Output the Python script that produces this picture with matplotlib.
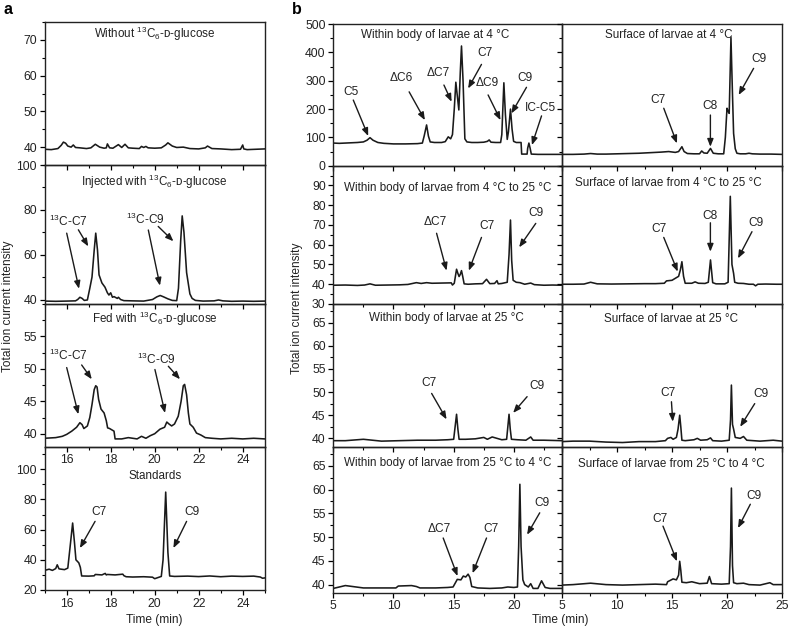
import matplotlib
matplotlib.use("Agg")
import matplotlib.pyplot as plt
from matplotlib.ticker import MultipleLocator

plt.rcParams['font.family'] = ['Liberation Sans', 'DejaVu Sans']
plt.rcParams['mathtext.fontset'] = 'custom'
plt.rcParams['mathtext.rm'] = 'Liberation Sans'
plt.rcParams['mathtext.it'] = 'Liberation Sans:italic'
plt.rcParams['font.size'] = 8.3

# ---------------- data: panel a ----------------
a_titles = ["Without $^{13}$C$_6$-ᴅ-glucose", "Injected with $^{13}$C$_6$-ᴅ-glucose",
            "Fed with $^{13}$C$_6$-ᴅ-glucose", "Standards"]

a1_t = [15.0, 15.3, 15.6, 15.75, 15.85, 15.95, 16.05, 16.2, 16.3, 16.4, 16.6, 16.9, 17.1, 17.3, 17.5, 17.7,
        17.8, 17.85, 17.95, 18.1, 18.25, 18.35, 18.5, 18.65, 18.8, 19.0, 19.3, 19.4, 19.5, 19.6, 19.7, 20.0,
        20.3, 20.5, 20.6, 20.8, 21.0, 21.3, 21.6, 22.0, 22.3, 22.4, 22.6, 23.0, 23.5, 23.9, 24.0, 24.05,
        24.2, 24.6, 25.0]
a1_v = [39.4, 39.3, 39.6, 40.5, 41.4, 41.1, 40.3, 40.0, 40.6, 39.9, 39.8, 39.6, 39.8, 40.8, 40.0, 39.7,
        39.8, 40.9, 39.8, 39.7, 40.3, 40.7, 39.9, 40.8, 39.8, 39.7, 39.6, 40.2, 39.9, 40.2, 39.8, 39.7,
        39.8, 40.6, 41.2, 40.3, 39.9, 40.0, 39.6, 39.5, 39.8, 40.3, 39.6, 39.5, 39.3, 39.4, 40.6, 39.5,
        39.3, 39.4, 39.5]

a2_t = [15.0, 15.5, 16.0, 16.4, 16.5, 16.6, 16.7, 16.8, 16.94, 17.05, 17.15, 17.25, 17.32, 17.4, 17.47,
        17.6, 17.74, 17.85, 17.92, 18.0, 18.08, 18.15, 18.3, 18.35, 18.45, 18.6, 19.0, 19.5, 19.9, 20.1,
        20.25, 20.4, 20.6, 20.8, 21.0, 21.08, 21.18, 21.25, 21.33, 21.45, 21.6, 21.7, 21.85, 22.2, 22.7,
        22.9, 23.1, 23.5, 24.0, 24.5, 25.0]
a2_v = [39.3, 39.2, 39.3, 39.4, 40.0, 41.0, 40.5, 39.6, 39.8, 45.0, 50.0, 62.0, 69.6, 62.0, 51.0,
        47.4, 45.5, 43.0, 42.0, 43.0, 41.0, 41.3, 40.5, 41.0, 40.0, 39.5, 39.4, 39.3, 40.0, 41.2,
        41.8, 41.2, 40.3, 39.6, 39.5, 45.0, 66.0, 77.3, 70.0, 52.0, 42.5, 40.5, 39.6, 39.3, 39.4,
        39.8, 39.4, 39.2, 39.3, 39.2, 39.3]

a3_t = [15.0, 15.5, 15.8, 16.0, 16.23, 16.45, 16.6, 16.7, 16.78, 16.94, 17.05, 17.15, 17.25, 17.32, 17.38,
        17.45, 17.56, 17.7, 17.8, 17.86, 17.95, 18.05, 18.15, 18.2, 18.5, 18.8, 19.2, 19.4, 19.6, 19.8,
        20.0, 20.24, 20.45, 20.55, 20.65, 20.77, 20.9, 21.07, 21.2, 21.3, 21.36, 21.45, 21.53, 21.6,
        21.75, 21.9, 22.1, 22.3, 22.6, 23.0, 23.5, 24.0, 24.5, 25.0]
a3_v = [39.3, 39.4, 39.6, 39.9, 40.4, 41.0, 41.7, 41.4, 40.8, 41.2, 42.5, 44.5, 46.8, 47.4, 47.2,
        45.3, 43.8, 43.2, 42.0, 40.9, 40.8, 40.6, 40.4, 39.2, 39.2, 39.4, 39.2, 39.6, 39.3, 39.7,
        40.0, 40.7, 41.0, 41.8, 41.5, 41.2, 41.5, 42.7, 45.0, 47.4, 47.6, 46.0, 43.2, 41.5,
        41.0, 40.1, 39.8, 39.4, 39.3, 39.2, 39.3, 39.2, 39.3, 39.2]

a4_t = [15.0, 15.2, 15.35, 15.5, 15.57, 15.65, 15.9, 16.05, 16.15, 16.27, 16.35, 16.42, 16.55, 16.62,
        16.68, 17.0, 17.25, 17.3, 17.6, 17.75, 17.8, 17.85, 18.2, 18.55, 18.6, 18.7, 19.0, 19.5, 19.9,
        20.0, 20.1, 20.3, 20.38, 20.5, 20.6, 20.68, 20.9, 21.5, 22.0, 22.5, 23.0, 23.5, 24.0, 24.5,
        24.8, 24.9, 25.0]
a4_v = [33.0, 33.8, 33.0, 34.2, 36.7, 34.0, 33.5, 34.5, 48.0, 64.4, 52.0, 40.0, 38.0, 35.0,
        29.3, 29.2, 29.4, 30.3, 30.0, 31.0, 30.0, 30.3, 30.0, 30.5, 29.5, 28.8, 28.6, 28.8, 28.5,
        27.5, 28.0, 29.0, 40.0, 84.9, 45.0, 29.3, 29.0, 29.2, 28.9, 29.3, 28.8, 29.2, 29.0, 29.2,
        28.6, 27.8, 28.0]

# ---------------- data: panel b ----------------
b_titles_left = ["Within body of larvae at 4 °C", "Within body of larvae from 4 °C to 25 °C",
                 "Within body of larvae at 25 °C", "Within body of larvae from 25 °C to 4 °C"]
b_titles_right = ["Surface of larvae at 4 °C", "Surface of larvae from 4 °C to 25 °C",
                  "Surface of larvae at 25 °C", "Surface of larvae from 25 °C to 4 °C"]

b1L_t = [5.0, 5.5, 6.0, 6.5, 7.0, 7.5, 7.8, 8.05, 8.3, 8.7, 9.2, 10.0, 11.0, 12.0, 12.4, 12.55, 12.75,
         12.9, 13.05, 13.4, 14.0, 14.3, 14.55, 14.75, 14.9, 15.05, 15.18, 15.32, 15.43, 15.55, 15.65,
         15.78, 15.93, 16.1, 16.5, 17.0, 17.5, 17.8, 17.95, 18.1, 18.5, 18.9, 19.0, 19.17, 19.3, 19.45,
         19.55, 19.72, 19.85, 19.98, 20.2, 20.6, 20.65, 21.1, 21.15, 21.25, 21.35, 21.45, 22.0, 23.0, 24.0]
b1L_v = [80, 79, 80, 81, 82, 84, 90, 99, 90, 82, 79, 77, 77, 78, 80, 105, 144,
         105, 84, 82, 82, 85, 102, 95, 110, 200, 295, 240, 197, 330, 423,
         300, 95, 84, 82, 82, 83, 86, 91, 83, 82, 82, 110, 293, 180, 93,
         120, 200, 130, 86, 82, 82, 41, 41, 62, 80, 62, 41, 40, 40, 40]

b1R_t = [5.0, 6.0, 7.0, 7.6, 8.2, 9.0, 10.0, 11.0, 12.0, 13.0, 14.0, 14.7, 15.3, 15.6, 15.9, 16.1, 16.4,
         17.0, 17.5, 17.7, 17.9, 18.2, 18.5, 18.75, 19.2, 19.7, 19.85, 20.0, 20.1, 20.2, 20.36, 20.5, 20.6,
         20.75, 20.9, 21.2, 21.7, 22.0, 22.3, 23.0, 24.0, 25.0]
b1R_v = [40, 40, 41, 43, 41, 41, 42, 43, 44, 46, 48, 50, 47, 50, 67, 50, 43,
         42, 42, 52, 45, 44, 61, 44, 42, 42, 100, 203, 192, 185, 453, 250, 114,
         60, 44, 42, 42, 44, 42, 41, 41, 40]

b2L_t = [5.0, 6.0, 7.0, 7.6, 8.05, 8.5, 9.5, 10.5, 11.2, 11.9, 12.3, 12.75, 13.2, 14.0, 14.8, 14.9, 15.05,
         15.24, 15.35, 15.45, 15.55, 15.65, 15.75, 15.87, 16.2, 16.8, 17.4, 17.73, 18.0, 18.4, 18.6, 18.7,
         19.0, 19.45, 19.6, 19.72, 19.82, 19.94, 20.2, 20.5, 20.9, 21.4, 21.7, 22.5, 23.2, 24.0]
b2L_v = [39.5, 39.6, 39.4, 39.6, 40.2, 39.5, 39.6, 39.7, 39.9, 40.8, 40.4, 40.8, 40.5, 40.6, 40.7, 39.6, 40.5,
         47.6, 45.5, 43.9, 45.0, 46.9, 44.0, 40.2, 40.0, 40.2, 40.3, 42.5, 40.3, 40.4, 41.8, 40.2,
         40.4, 41.0, 55.0, 72.5, 52.0, 42.0, 41.0, 40.8, 40.0, 40.6, 39.8, 39.5, 39.6, 39.5]

b2R_t = [5.0, 6.0, 7.0, 7.6, 8.2, 9.5, 11.0, 12.5, 13.5, 14.3, 14.5, 15.0, 15.3, 15.6, 15.75, 15.9, 16.05,
         16.2, 16.8, 17.1, 17.4, 18.0, 18.3, 18.5, 18.7, 19.0, 19.8, 20.1, 20.3, 20.45, 20.6, 20.7, 21.0,
         21.5, 22.0, 22.4, 22.6, 22.8, 23.5, 24.5, 25.0]
b2R_v = [40.0, 40.0, 40.1, 41.0, 40.2, 40.1, 40.2, 40.3, 40.3, 40.5, 41.7, 42.0, 43.0, 44.0, 47.0, 51.4, 44.0,
         40.5, 40.5, 41.2, 40.5, 40.4, 41.0, 52.3, 40.8, 40.2, 40.2, 41.0, 84.5, 50.0, 45.5, 41.0, 40.5,
         40.4, 40.0, 40.0, 39.2, 40.0, 40.1, 40.0, 40.0]

b3L_t = [5.0, 6.0, 7.5, 9.0, 10.5, 12.0, 13.5, 14.5, 15.0, 15.12, 15.24, 15.35, 15.45, 16.0, 16.8, 17.5,
         17.8, 18.2, 18.6, 19.0, 19.4, 19.5, 19.6, 19.7, 19.8, 20.3, 21.0, 21.4, 21.6, 22.5, 24.0]
b3L_v = [39.5, 39.5, 39.8, 39.4, 39.5, 39.6, 39.6, 39.7, 39.8, 42.5, 45.2, 42.0, 39.8, 39.8, 39.9, 40.2,
         39.8, 40.3, 40.0, 39.7, 39.8, 42.5, 45.2, 42.0, 39.8, 39.7, 39.6, 40.3, 39.6, 39.6, 39.5]

b3R_t = [5.0, 6.0, 7.5, 9.0, 10.5, 12.0, 13.5, 14.4, 14.6, 14.9, 15.1, 15.4, 15.55, 15.7, 15.8, 15.9, 16.2,
         17.0, 17.3, 17.6, 18.2, 18.5, 18.7, 19.5, 20.2, 20.32, 20.4, 20.5, 20.6, 20.75, 21.2, 21.5, 21.8,
         23.0, 24.2, 25.0]
b3R_v = [39.3, 39.4, 39.4, 39.2, 39.1, 39.3, 39.3, 39.5, 40.0, 40.2, 39.8, 40.2, 42.0, 45.0, 42.5, 39.6, 39.5,
         39.7, 40.0, 39.6, 39.7, 40.1, 39.5, 39.4, 39.6, 44.0, 51.5, 43.0, 42.0, 40.2, 40.0, 40.4, 39.6,
         39.4, 39.6, 39.4]

b4L_t = [5.0, 5.5, 6.0, 7.5, 9.0, 10.2, 10.4, 11.5, 11.9, 12.2, 13.5, 14.5, 14.95, 15.3, 15.6, 15.8, 16.0,
         16.2, 16.35, 16.5, 17.0, 18.0, 19.0, 19.5, 20.0, 20.3, 20.4, 20.5, 20.6, 20.75, 20.9, 21.2, 21.4,
         21.6, 22.0, 22.3, 22.6, 23.0, 24.0]
b4L_v = [39.2, 39.5, 39.8, 39.3, 39.3, 39.3, 39.7, 39.8, 39.6, 39.3, 39.3, 39.4, 39.5, 41.1, 41.0, 41.8, 41.6,
         42.2, 41.5, 39.6, 39.3, 39.2, 39.3, 39.5, 39.4, 39.5, 48.0, 61.1, 48.0, 41.0, 40.0, 39.5, 40.2,
         39.2, 39.2, 40.8, 39.4, 39.2, 39.2]

b4R_t = [5.0, 6.0, 7.6, 9.0, 10.5, 12.0, 13.5, 14.5, 14.6, 15.1, 15.4, 15.6, 15.7, 15.8, 15.9, 16.3, 16.8,
         17.5, 18.2, 18.4, 18.6, 19.5, 20.2, 20.32, 20.4, 20.5, 20.6, 20.9, 21.5, 22.0, 23.0, 23.9, 24.2, 25.0]
b4R_v = [39.9, 40.0, 40.3, 40.0, 39.9, 40.0, 40.1, 40.0, 40.6, 41.2, 41.0, 42.0, 44.9, 43.0, 40.5, 40.4, 40.6,
         40.2, 40.3, 41.7, 40.2, 40.1, 40.2, 48.0, 60.3, 44.0, 40.4, 40.2, 40.3, 40.0, 39.9, 40.4, 40.0, 40.0]

# ---------------- figure ----------------
W, H = 788, 628
fig = plt.figure(figsize=(W / 100, H / 100), dpi=100)
fig.patch.set_facecolor('white')


def add_ax(x0, x1, y0, y1):
    ax = fig.add_axes([x0 / W, 1 - y1 / H, (x1 - x0) / W, (y1 - y0) / H])
    ax.set_facecolor('none')
    return ax


def style(ax, xlim, ylim, xmaj, xmin, ymaj, ymin, xlabels=False, ylabels=True):
    ax.set_xlim(*xlim)
    ax.set_ylim(*ylim)
    ax.xaxis.set_major_locator(MultipleLocator(xmaj))
    ax.xaxis.set_minor_locator(MultipleLocator(xmin))
    ax.yaxis.set_major_locator(MultipleLocator(ymaj))
    ax.yaxis.set_minor_locator(MultipleLocator(ymin))
    ax.tick_params(which='major', direction='out', length=3.5, width=0.9, labelsize=8.8, pad=2,
                   labelcolor='#222222')
    ax.tick_params(which='minor', direction='out', length=2, width=0.8)
    ax.tick_params(axis='x', labelbottom=xlabels)
    ax.tick_params(axis='y', labelleft=ylabels)
    for s in ax.spines.values():
        s.set_linewidth(1.0)
        s.set_color('#222222')


def trace(ax, t, v):
    ax.plot(t, v, color='#1a1a1a', lw=1.15, solid_joinstyle='round')


def arrow(ax, start, tip):
    ax.annotate('', xy=tip, xytext=start,
                arrowprops=dict(arrowstyle='-|>,head_length=0.55,head_width=0.22', lw=1.0,
                                color='#1a1a1a', shrinkA=0, shrinkB=0),
                annotation_clip=False)


def label(ax, x, y, s):
    ax.text(x, y, s, ha='center', va='center', fontsize=8.6, color='#222222', clip_on=False)


def title(ax, fx, fy, s):
    ax.text(fx, fy, s, transform=ax.transAxes, ha='center', va='center', fontsize=8.4, color='#222222')


# panel a
ax_l, ax_r = 44.7, 264.7
a_rows = [(22, 165), (165, 304), (304, 446.7), (446.7, 590)]
a_ylims = [(35, 75), (38, 100), (38, 60), (20, 115)]
a_yt = [(10, 5), (20, 10), (5, 2.5), (20, 10)]
a_data = [(a1_t, a1_v), (a2_t, a2_v), (a3_t, a3_v), (a4_t, a4_v)]
a_title_pos = [0.915, 0.88, 0.895, 0.795]
axa = []
for i in range(4):
    ax = add_ax(ax_l, ax_r, *a_rows[i])
    style(ax, (15, 25), a_ylims[i], 2, 1, *a_yt[i], xlabels=(i >= 2))
    trace(ax, *a_data[i])
    title(ax, 0.5, a_title_pos[i], a_titles[i])
    axa.append(ax)
axa[0].set_yticks([40, 50, 60, 70])
axa[1].set_yticks([40, 60, 80, 100])
axa[2].set_yticks([40, 45, 50, 55])
axa[3].set_yticks([20, 40, 60, 80, 100])

ax = axa[1]
label(ax, 16.1, 74.8, "$^{13}$C-C7")
arrow(ax, (16.0, 69.6), (16.56, 44.8))
arrow(ax, (16.53, 71.1), (16.98, 63.7))
label(ax, 19.6, 75.6, "$^{13}$C-C9")
arrow(ax, (19.71, 71.0), (20.24, 46.2))
arrow(ax, (20.16, 72.6), (20.85, 66.0))

ax = axa[2]
label(ax, 16.1, 52.0, "$^{13}$C-C7")
arrow(ax, (16.0, 50.2), (16.53, 43.0))
arrow(ax, (16.68, 50.6), (17.14, 48.4))
label(ax, 20.1, 51.5, "$^{13}$C-C9")
arrow(ax, (20.01, 49.9), (20.47, 43.2))
arrow(ax, (20.62, 50.4), (21.15, 48.4))

ax = axa[3]
ax.set_xlabel("Time (min)", fontsize=8.6, labelpad=3, color='#222222')
label(ax, 17.45, 71.5, "C7")
arrow(ax, (17.29, 65.5), (16.6, 47.8))
label(ax, 21.7, 71.5, "C9")
arrow(ax, (21.45, 65.5), (20.85, 47.8))

# panel b
bL0, bL1, bR1 = 333.3, 562.0, 782.0
b_rows = [(24.2, 165.7), (165.7, 304), (304, 446.7), (446.7, 592.7)]
b_ylims = [(0, 500), (30, 100), (38.2, 69), (38.3, 69)]
b_yt = [(100, 50), (10, 5), (5, 2.5), (5, 2.5)]
bL_data = [(b1L_t, b1L_v), (b2L_t, b2L_v), (b3L_t, b3L_v), (b4L_t, b4L_v)]
bR_data = [(b1R_t, b1R_v), (b2R_t, b2R_v), (b3R_t, b3R_v), (b4R_t, b4R_v)]
bL_title_x = [0.446, 0.5, 0.495, 0.5]
bR_title_x = [0.483, 0.483, 0.496, 0.499]
bL_title_pos = [0.927, 0.837, 0.9, 0.886]
bR_title_pos = [0.927, 0.877, 0.893, 0.879]
axL, axR = [], []
for i in range(4):
    a = add_ax(bL0, bL1, *b_rows[i])
    style(a, (5, 24), b_ylims[i], 5, 2.5, *b_yt[i], xlabels=(i == 3))
    trace(a, *bL_data[i])
    title(a, bL_title_x[i], bL_title_pos[i], b_titles_left[i])
    axL.append(a)
    b = add_ax(bL1, bR1, *b_rows[i])
    style(b, (5, 25), b_ylims[i], 5, 2.5, *b_yt[i], xlabels=(i == 3), ylabels=False)
    trace(b, *bR_data[i])
    title(b, bR_title_x[i], bR_title_pos[i], b_titles_right[i])
    axR.append(b)
for a in (axL[1], axR[1]):
    a.set_yticks([30, 40, 50, 60, 70, 80, 90])
for a in (axL[2], axR[2], axL[3], axR[3]):
    a.set_yticks([40, 45, 50, 55, 60, 65])
axR[3].set_xticks([5, 10, 15, 20, 25])
axL[3].set_xticks([5, 10, 15, 20])

# b row 1
ax = axL[0]
label(ax, 6.47, 261, "C5"); arrow(ax, (6.66, 232), (7.9, 105))
label(ax, 10.62, 309, "ΔC6"); arrow(ax, (11.3, 261), (12.61, 161))
label(ax, 13.71, 326, "ΔC7"); arrow(ax, (14.19, 285), (14.83, 226))
label(ax, 17.59, 397, "C7"); arrow(ax, (17.31, 358), (16.2, 273))
label(ax, 17.78, 291, "ΔC9"); arrow(ax, (17.86, 250), (18.89, 161))
label(ax, 20.91, 309, "C9"); arrow(ax, (21.05, 277), (19.8, 185))
label(ax, 22.2, 203, "IC-C5"); arrow(ax, (22.3, 176), (21.5, 73))
ax = axR[0]
label(ax, 13.73, 232, "C7"); arrow(ax, (14.25, 203), (15.45, 79))
label(ax, 18.49, 211, "C8"); arrow(ax, (18.49, 179), (18.49, 67))
label(ax, 22.88, 376, "C9"); arrow(ax, (22.42, 344), (21.06, 250))

# b row 2
ax = axL[1]
label(ax, 13.5, 71.6, "ΔC7"); arrow(ax, (13.58, 65.8), (14.41, 46.9))
label(ax, 17.73, 69.4, "C7"); arrow(ax, (17.31, 63.7), (16.26, 46.9))
label(ax, 21.88, 75.9, "C9"); arrow(ax, (21.82, 70.8), (20.44, 58.7))
ax = axR[1]
label(ax, 13.79, 67.9, "C7"); arrow(ax, (14.25, 63.7), (15.52, 46.4))
label(ax, 18.49, 74.5, "C8"); arrow(ax, (18.49, 71.1), (18.49, 56.5))
label(ax, 22.64, 71.1, "C9"); arrow(ax, (22.27, 66.6), (21.0, 53.1))

# b row 3
ax = axL[2]
label(ax, 12.97, 51.9, "C7"); arrow(ax, (13.17, 49.7), (14.41, 44.1))
label(ax, 21.9, 51.3, "C9"); arrow(ax, (21.1, 49.0), (19.94, 45.5))
ax = axR[2]
label(ax, 14.64, 49.8, "C7"); arrow(ax, (14.95, 47.9), (15.07, 43.6))
label(ax, 23.09, 49.5, "C9"); arrow(ax, (22.52, 47.5), (21.2, 42.5))

# b row 4
ax = axL[3]
label(ax, 13.8, 51.7, "ΔC7"); arrow(ax, (14.13, 49.8), (15.32, 41.8))
label(ax, 18.14, 51.7, "C7"); arrow(ax, (17.73, 49.8), (16.57, 42.4))
label(ax, 22.3, 57.2, "C9"); arrow(ax, (22.15, 55.1), (21.1, 50.5))
ax = axR[3]
label(ax, 13.88, 53.9, "C7"); arrow(ax, (14.18, 52.3), (15.45, 44.9))
label(ax, 22.42, 58.6, "C9"); arrow(ax, (22.12, 56.9), (21.0, 51.9))

# axis labels and panel letters
fig.text(8 / W, 1 - 306 / H, "Total ion current intensity", rotation=90, ha='center', va='center',
         fontsize=8.6, color='#222222')
fig.text(297 / W, 1 - 308 / H, "Total ion current intensity", rotation=90, ha='center', va='center',
         fontsize=8.6, color='#222222')
fig.text(560 / W, 1 - 620 / H, "Time (min)", ha='center', va='center', fontsize=8.6, color='#222222')
fig.text(3 / W, 1 - 10 / H, "a", ha='left', va='center', fontsize=11.5, fontweight='bold')
fig.text(292 / W, 1 - 10 / H, "b", ha='left', va='center', fontsize=11.5, fontweight='bold')

fig.savefig("out.png", dpi=100, facecolor='white')
